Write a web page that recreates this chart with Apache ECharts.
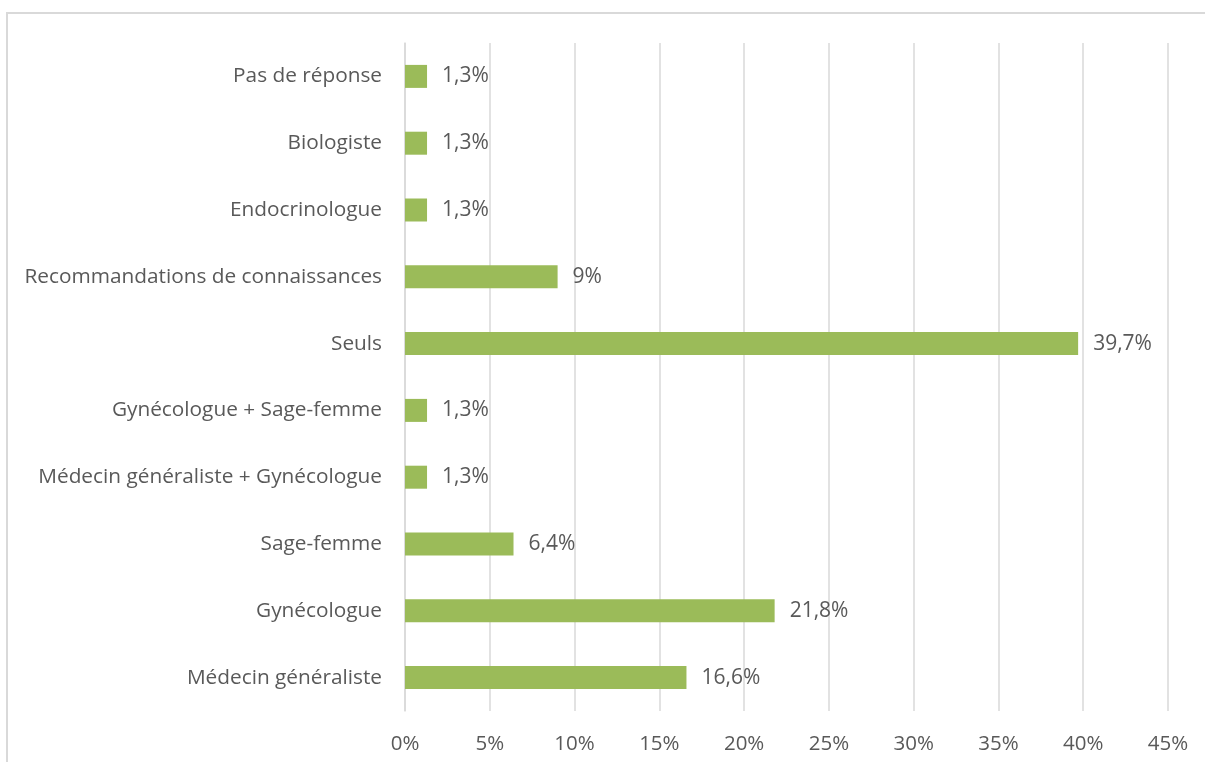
<!DOCTYPE html>
<html>
<head>
<meta charset="utf-8">
<script src="https://cdn.jsdelivr.net/npm/echarts@6/dist/echarts.min.js"></script>
<style>
  html, body { margin: 0; padding: 0; background: #fff; }
  #chart { width: 1205px; height: 762px; }
</style>
</head>
<body>
<div id="chart"></div>
<script>
// Categories listed bottom to top (ECharts category axis order)
const categories = [
  'Médecin généraliste',
  'Gynécologue',
  'Sage-femme',
  'Médecin généraliste + Gynécologue',
  'Gynécologue + Sage-femme',
  'Seuls',
  'Recommandations de connaissances',
  'Endocrinologue',
  'Biologiste',
  'Pas de réponse'
];
const values = [16.6, 21.8, 6.4, 1.3, 1.3, 39.7, 9, 1.3, 1.3, 1.3];
const axisMax = 45;
const axisStep = 5;

const FONT = '"Open Sans", sans-serif';
const TEXT = '#595959';

const chart = echarts.init(document.getElementById('chart'));
chart.setOption({
  animation: false,
  backgroundColor: '#ffffff',
  graphic: [{
    type: 'rect',
    silent: true,
    shape: { x: 7, y: 13, width: 1400, height: 1000 },
    style: { fill: 'none', stroke: '#d9d9d9', lineWidth: 2 }
  }],
  grid: { left: 405, right: 37, top: 43, bottom: 51, containLabel: false },
  xAxis: {
    type: 'value',
    min: 0,
    max: axisMax,
    interval: axisStep,
    axisLine: { show: false },
    axisTick: { show: false },
    splitLine: { show: true, lineStyle: { color: '#d9d9d9', width: 1.5 } },
    axisLabel: {
      color: TEXT, fontFamily: FONT, fontSize: 20.5, margin: 23,
      formatter: v => v + '%'
    }
  },
  yAxis: {
    type: 'category',
    data: categories,
    axisLine: { show: true, lineStyle: { color: '#d9d9d9', width: 1.5 } },
    axisTick: { show: false },
    axisLabel: { color: TEXT, fontFamily: FONT, fontSize: 20.8, margin: 23 }
  },
  series: [{
    type: 'bar',
    data: values,
    barWidth: 23,
    itemStyle: { color: '#9bbb59' },
    label: {
      show: true,
      position: 'right',
      distance: 15,
      color: TEXT,
      fontFamily: FONT,
      fontSize: 21,
      formatter: p => String(p.value).replace('.', ',') + '%'
    }
  }]
});
</script>
</body>
</html>
